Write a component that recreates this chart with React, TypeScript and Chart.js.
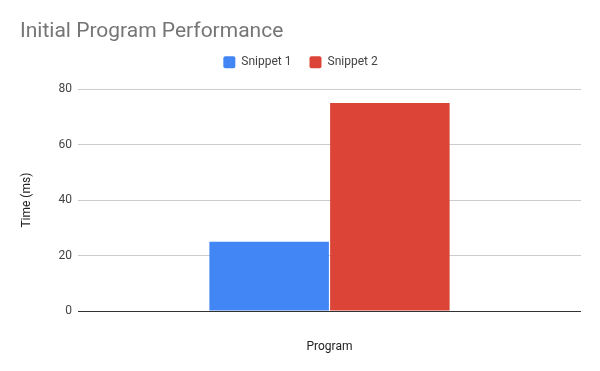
import React, { useEffect, useRef } from "react";
import { Chart, registerables } from "chart.js";

Chart.register(...registerables);

const chartTitle = "Initial Program Performance";
const categories = [""];
const seriesNames = ["Snippet 1", "Snippet 2"];
const snippet1 = [25];
const snippet2 = [75];
const seriesColors = ["#4285F4", "#DB4437"];
const yTitle = "Time (ms)";
const xTitle = "Program";

const legendHeightPlugin = {
  id: "legendHeight",
  beforeLayout(chart: any) {
    const lg = chart.legend;
    if (lg && !lg.__wrapped) {
      const orig = lg.fit.bind(lg);
      lg.fit = function () {
        orig();
        this.height = 51;
      };
      lg.__wrapped = true;
    }
  },
};

export default function App() {
  const ref = useRef<HTMLCanvasElement | null>(null);
  useEffect(() => {
    if (!ref.current) return;
    Chart.defaults.font.family = "Roboto";
    const chart = new Chart(ref.current, {
      type: "bar",
      data: {
        labels: categories,
        datasets: [
          { label: seriesNames[0], data: snippet1, backgroundColor: seriesColors[0], borderWidth: 0, borderRadius: 0 },
          { label: seriesNames[1], data: snippet2, backgroundColor: seriesColors[1], borderWidth: 0, borderRadius: 0 },
        ],
      },
      plugins: [legendHeightPlugin],
      options: {
        responsive: false,
        animation: false,
        datasets: { bar: { categoryPercentage: 0.48, barPercentage: 0.99 } },
        layout: { padding: { left: 20, right: 19, top: 0, bottom: 0 } },
        plugins: {
          tooltip: { enabled: false },
          title: {
            display: true,
            text: chartTitle,
            align: "start",
            color: "#757575",
            font: { size: 21, weight: "normal" },
            padding: { top: 19, bottom: -6 },
          },
          legend: {
            display: true,
            position: "top",
            labels: {
              boxWidth: 12,
              boxHeight: 12,
              color: "#444",
              font: { size: 12 },
              padding: 18,
              useBorderRadius: true,
              borderRadius: 2,
            },
          },
        },
        scales: {
          x: {
            grid: { display: false },
            border: { display: false },
            ticks: { display: false },
            title: {
              display: true,
              text: xTitle,
              color: "#222",
              font: { size: 12 },
              padding: { top: 0, bottom: 17 },
            },
            afterFit: (s: any) => {
              s.height = 60;
            },
          },
          y: {
            min: 0,
            max: 80,
            ticks: { stepSize: 20, color: "#444", font: { size: 12 }, padding: 6 },
            grid: {
              drawTicks: false,
              color: (ctx: any) => (ctx.tick && ctx.tick.value === 0 ? "#333" : "#ccc"),
            },
            border: { display: false },
            title: {
              display: true,
              text: yTitle,
              color: "#222",
              font: { size: 12 },
              padding: { top: 0, bottom: 0 },
            },
            afterFit: (s: any) => {
              s.width = 58;
            },
          },
        },
      },
    });
    return () => chart.destroy();
  }, []);
  return (
    <div style={{ position: "absolute", left: 0, top: 0, width: 600, height: 371, background: "#fff" }}>
      <canvas ref={ref} width={600} height={371} style={{ display: "block" }} />
    </div>
  );
}
